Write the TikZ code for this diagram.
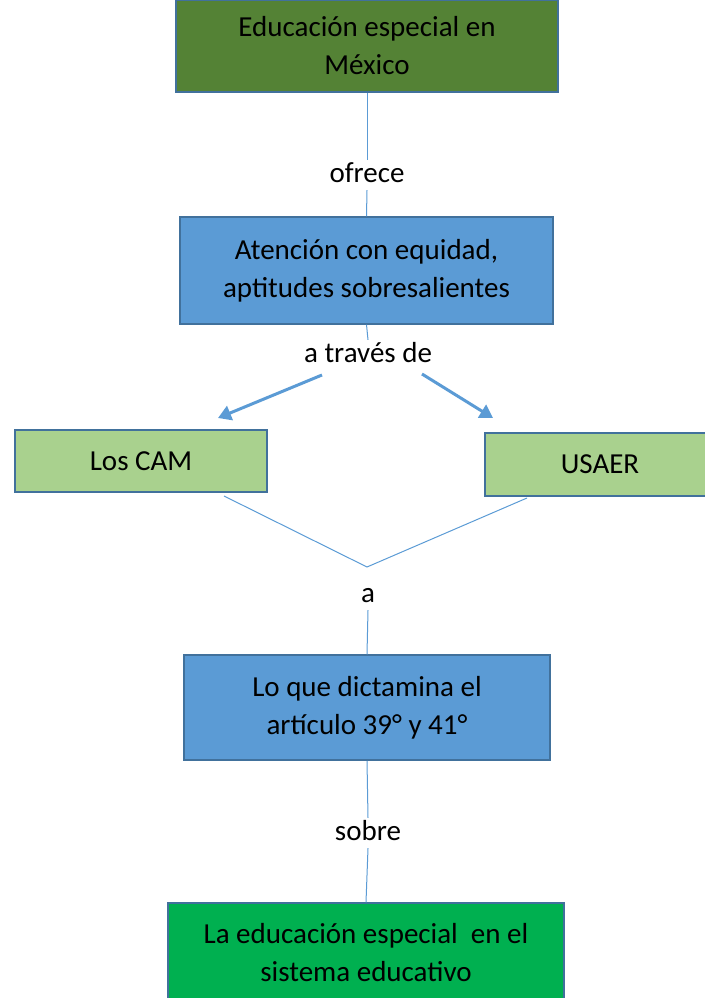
\documentclass[tikz,border=0pt]{standalone}
\usepackage{fontspec}
\setmainfont{Carlito}
\usetikzlibrary{arrows.meta}
\definecolor{bordc}{HTML}{41719C}
\definecolor{linec}{HTML}{5B9BD5}
\definecolor{darkgreen}{HTML}{548235}
\definecolor{midblue}{HTML}{5B9BD5}
\definecolor{lightgreen}{HTML}{A9D18E}
\definecolor{brightgreen}{HTML}{00B050}
\begin{document}
\begin{tikzpicture}[x=1pt,y=-1pt,
  box/.style={draw=bordc, line width=1.5pt, align=center, inner sep=0pt,
    font=\fontsize{29}{38}\selectfont},
  lbl/.style={fill=white, inner sep=2pt, text height=20pt, text depth=6pt,
    font=\fontsize{29}{38}\selectfont},
  conn/.style={draw=linec, line width=1pt},
  arr/.style={draw=linec, line width=3pt, -{Triangle[length=13pt,width=15pt]}}]
\useasboundingbox (0,0) rectangle (704,998);
\node[box, fill=darkgreen, minimum width=382pt, minimum height=92pt] (top) at (367,46) {Educación especial en\\México};
\node[box, fill=midblue, minimum width=373pt, minimum height=107pt] (att) at (366.5,270.5) {Atención con equidad,\\aptitudes sobresalientes};
\node[box, fill=lightgreen, minimum width=252pt, minimum height=62pt] (cam) at (141,461) {Los CAM};
\node[box, fill=lightgreen, minimum width=230pt, minimum height=63pt] (usaer) at (600,464.5) {USAER};
\node[box, fill=midblue, minimum width=366pt, minimum height=105pt] (dict) at (367,707.5) {Lo que dictamina el\\artículo 39° y 41°};
\node[box, fill=brightgreen, minimum width=396pt, minimum height=100pt] (edu) at (366,953) {La educación especial\ \ en el\\sistema educativo};
\node[lbl] (l1) at (367,175) {ofrece};
\node[lbl] (l2) at (368,355) {a través de};
\node[lbl] (l3) at (368,595) {a};
\node[lbl] (l4) at (368,833) {sobre};
\draw[conn] (top.south) -- (l1.north);
\draw[conn] (l1.south) -- (att.north);
\draw[conn] (att.south) -- (l2.north);
\coordinate (a1s) at (322,375);
\coordinate (a1e) at (218,418);
\coordinate (a2s) at (422,374);
\coordinate (a2e) at (493,418);
\draw[arr] (a1s) -- (a1e);
\draw[arr] (a2s) -- (a2e);
\coordinate (vl) at (224,496);
\coordinate (vr) at (527,498);
\coordinate (v) at (367,567);
\draw[conn] (vl) -- (v) -- (vr);
\draw[conn] (l3.south) -- (dict.north);
\draw[conn] (dict.south) -- (l4.north);
\draw[conn] (l4.south) -- (edu.north);
\end{tikzpicture}
\end{document}
